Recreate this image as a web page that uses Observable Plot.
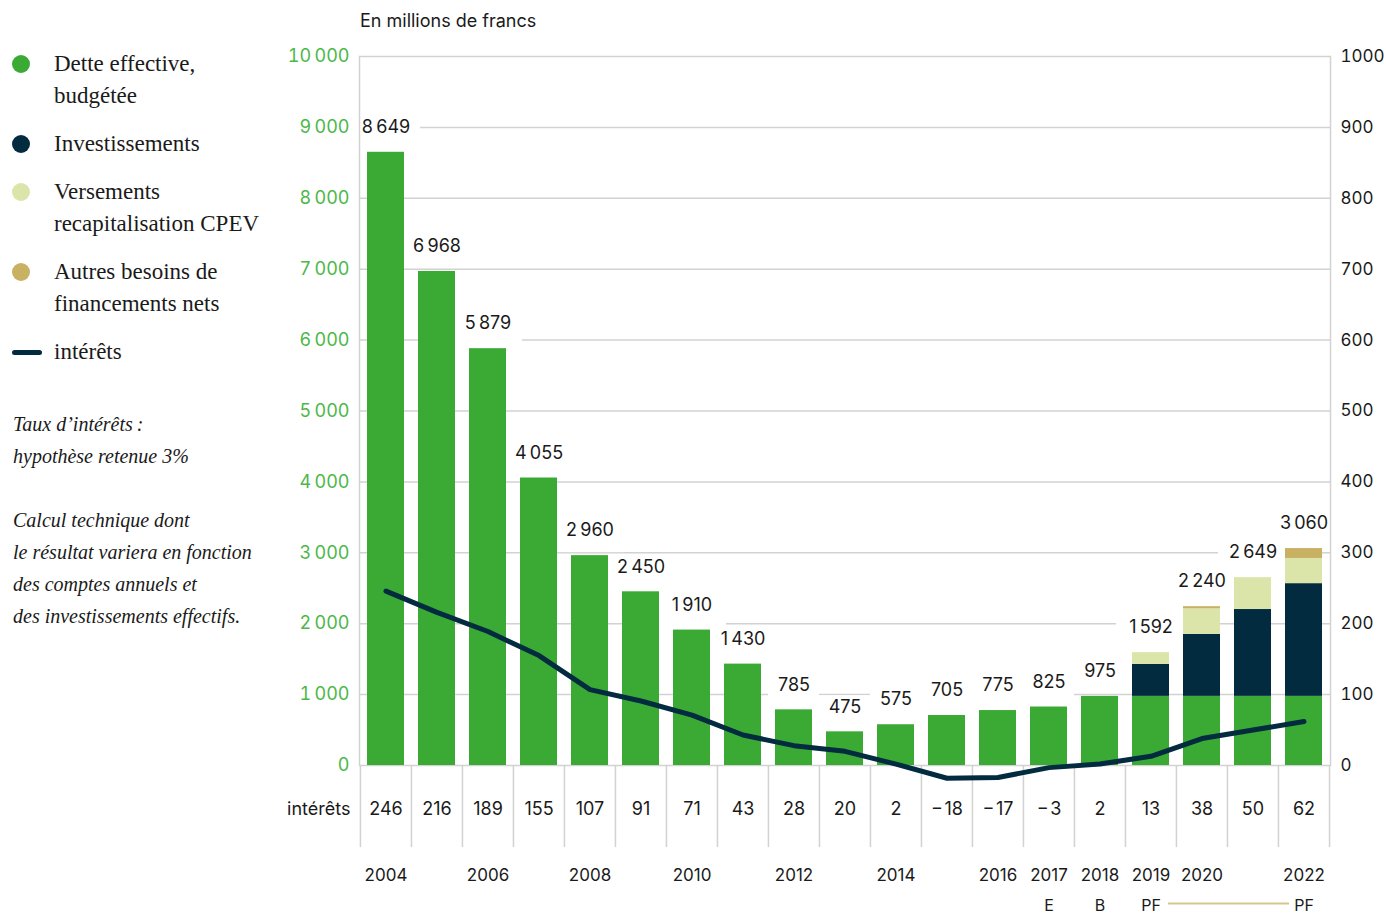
<!DOCTYPE html>
<html lang="fr">
<head>
<meta charset="utf-8">
<title>Dette et intérêts</title>
<script src="https://cdn.jsdelivr.net/npm/d3@7"></script>
<script src="https://cdn.jsdelivr.net/npm/@observablehq/plot@0.6"></script>
<style>
  body { margin: 0; background: #fff; }
  #wrap { position: relative; width: 1386px; height: 915px; font-family: Inter, "Noto Sans", sans-serif; color: #1a1a1a; }
  #chart { position: absolute; left: 0; top: 0; }
  .title { position: absolute; left: 360px; top: 9px; font-size: 18px; line-height: 24px; }
  .legend { position: absolute; left: 0; top: 0; font-family: "Liberation Serif", serif; font-size: 23px; line-height: 32px; color: #1a1a1a; }
  .item { position: absolute; left: 54px; white-space: nowrap; }
  .dot { position: absolute; left: -42px; top: 7px; width: 18px; height: 18px; border-radius: 50%; }
  .dash { position: absolute; left: -42px; top: 14px; width: 30px; height: 5px; border-radius: 3px; }
  .note { position: absolute; left: 13px; font-family: "Liberation Serif", serif; font-style: italic; font-size: 20px; line-height: 32px; white-space: nowrap; }
</style>
</head>
<body>
<div id="wrap">
  <div class="title">En millions de francs</div>
  <div class="legend" id="legend"></div>
  <div class="note" style="top:408px">Taux d’intérêts&#8239;:<br>hypothèse retenue 3%</div>
  <div class="note" style="top:504px">Calcul technique dont<br>le résultat variera en fonction<br>des comptes annuels et<br>des investissements effectifs.</div>
  <div id="chart"></div>
</div>
<script>
// Years shown on the x axis
const years = [2004, 2005, 2006, 2007, 2008, 2009, 2010, 2011, 2012, 2013, 2014, 2015, 2016, 2017, 2018, 2019, 2020, 2021, 2022];

// Stacked components (millions de francs)
const detteEffective = [8649, 6968, 5879, 4055, 2960, 2450, 1910, 1430, 785, 475, 575, 705, 775, 825, 975, 975, 975, 975, 975];
const investissements = [0, 0, 0, 0, 0, 0, 0, 0, 0, 0, 0, 0, 0, 0, 0, 450, 873, 1225, 1590];
const versementsCPEV = [0, 0, 0, 0, 0, 0, 0, 0, 0, 0, 0, 0, 0, 0, 0, 167, 362, 449, 355];
const autresBesoins = [0, 0, 0, 0, 0, 0, 0, 0, 0, 0, 0, 0, 0, 0, 0, 0, 30, 0, 140];

// Interest charge (right axis, millions de francs)
const interets = [246, 216, 189, 155, 107, 91, 71, 43, 28, 20, 2, -18, -17, -3, 2, 13, 38, 50, 62];

// Labelled years and status tags under the axis
const yearTicks = [2004, 2006, 2008, 2010, 2012, 2014, 2016, 2017, 2018, 2019, 2020, 2022];
const statusYears = [2017, 2018, 2019, 2022];
const statusTags = ["E", "B", "PF", "PF"];

// Axis ticks
const leftTicks = [0, 1000, 2000, 3000, 4000, 5000, 6000, 7000, 8000, 9000, 10000];
const gridTicks = [1000, 2000, 3000, 4000, 5000, 6000, 7000, 8000, 9000];

const seriesNames = ["Dette effective, budgétée", "Investissements", "Versements recapitalisation CPEV", "Autres besoins de financements nets"];
const seriesValues = [detteEffective, investissements, versementsCPEV, autresBesoins];
const seriesColors = ["#3baa35", "#022b40", "#dce5a9", "#c9b163"];
const lineColor = "#022b40";
const gridColor = "#d2d2d2";

// Legend (HTML, left column)
const legendItems = [
  {lines: ["Dette effective,", "budgétée"], color: seriesColors[0], top: 48},
  {lines: ["Investissements"], color: seriesColors[1], top: 128},
  {lines: ["Versements", "recapitalisation CPEV"], color: seriesColors[2], top: 176},
  {lines: ["Autres besoins de", "financements nets"], color: seriesColors[3], top: 256},
  {lines: ["intérêts"], color: lineColor, top: 336, line: true}
];
const legend = document.getElementById("legend");
for (const it of legendItems) {
  const div = document.createElement("div");
  div.className = "item";
  div.style.top = it.top + "px";
  const mark = document.createElement("span");
  mark.className = it.line ? "dash" : "dot";
  mark.style.background = it.color;
  div.appendChild(mark);
  div.insertAdjacentHTML("beforeend", it.lines.join("<br>"));
  legend.appendChild(div);
}

// Data tables
const stacked = seriesNames.flatMap((name, s) =>
  years.map((year, i) => ({year, series: name, value: seriesValues[s][i]}))
).filter(d => d.value > 0);
const totals = years.map((year, i) => ({year, total: d3.sum(seriesValues, v => v[i])}));
const interestRows = years.map((year, i) => ({year, value: interets[i]}));
const status = statusYears.map((year, i) => ({year, tag: statusTags[i]}));

const thin = "\u2009";
const fmt = d => d >= 1000 ? d3.format(",")(d).replace(/,/g, thin) : String(d);
const fmtSigned = d => d < 0 ? "\u2212" + "\u200A" + Math.abs(d) : String(d);

const W = 1386, H = 915, ML = 359, MR = 56, MT = 56, MB = 150;
const step = (W - ML - MR) / years.length;
const textColor = "#1a1a1a";

const chart = Plot.plot({
  width: W,
  height: H,
  marginLeft: ML,
  marginRight: MR,
  marginTop: MT,
  marginBottom: MB,
  style: {fontFamily: "Inter, 'Noto Sans', sans-serif", fontSize: "18px", color: textColor, background: "transparent"},
  x: {type: "band", domain: years, paddingInner: 0.27, paddingOuter: 0.135, axis: null},
  y: {domain: [0, 10000], axis: null},
  color: {domain: seriesNames, range: seriesColors},
  marks: [
    // horizontal grid
    Plot.ruleY(gridTicks, {stroke: gridColor, strokeWidth: 1.5}),
    // white knock-out behind the total labels
    Plot.barY(totals.filter(d => d.total < 1000), {x: "year", y1: "total", y2: "total", fill: "white", insetTop: -36, insetBottom: 3, insetLeft: -7, insetRight: -7}),
    Plot.barY(totals.filter(d => d.total >= 1000), {x: "year", y1: "total", y2: "total", fill: "white", insetTop: -36, insetBottom: 3, insetLeft: -16, insetRight: -16}),
    // frame
    Plot.frame({stroke: gridColor, strokeWidth: 1.5}),
    // stacked bars
    Plot.barY(stacked, {x: "year", y: "value", fill: "series"}),
    // column separators of the bottom table
    Plot.ruleX(years, {x: d => d, y1: () => 0, y2: () => 0, insetBottom: -82, dx: -step / 2, stroke: gridColor, strokeWidth: 1.5}),
    Plot.ruleX([years[years.length - 1]], {x: d => d, y1: () => 0, y2: () => 0, insetBottom: -82, dx: step / 2, stroke: gridColor, strokeWidth: 1.5}),
    // interest line on the right-hand scale (0–1000)
    Plot.line(interestRows, {x: "year", y: d => d.value * 10, stroke: lineColor, strokeWidth: 5, strokeLinecap: "round", strokeLinejoin: "round"}),
    // totals above bars
    Plot.text(totals, {x: "year", y: "total", text: d => fmt(d.total), dy: -25, fill: textColor, fontSize: 18}),
    // axes
    Plot.axisY(leftTicks, {anchor: "left", tickSize: 0, tickPadding: 10, tickFormat: fmt, fill: "#4cb848", fontSize: 18, label: null}),
    Plot.axisY(leftTicks, {anchor: "right", tickSize: 0, tickPadding: 10, tickFormat: d => String(d / 10), fill: textColor, fontSize: 17, label: null}),
    // interest row
    Plot.text(["intérêts"], {frameAnchor: "bottom-left", lineAnchor: "middle", textAnchor: "end", dx: -9, dy: 44, fill: textColor, fontSize: 18}),
    Plot.text(interestRows, {x: "year", frameAnchor: "bottom", lineAnchor: "middle", dy: 44, text: d => fmtSigned(d.value), fill: textColor, fontSize: 18}),
    // year labels and status tags
    Plot.text(yearTicks, {x: d => d, frameAnchor: "bottom", lineAnchor: "middle", dy: 110, text: d => String(d), fill: textColor, fontSize: 17}),
    Plot.text(status, {x: "year", frameAnchor: "bottom", lineAnchor: "middle", dy: 140, text: "tag", fill: textColor, fontSize: 16}),
    Plot.ruleY([0], {x1: () => 2019, x2: () => 2022, dy: 138, insetLeft: 36, insetRight: 33, stroke: "#d6c68c", strokeWidth: 2})
  ]
});
document.getElementById("chart").appendChild(chart);
</script>
</body>
</html>
